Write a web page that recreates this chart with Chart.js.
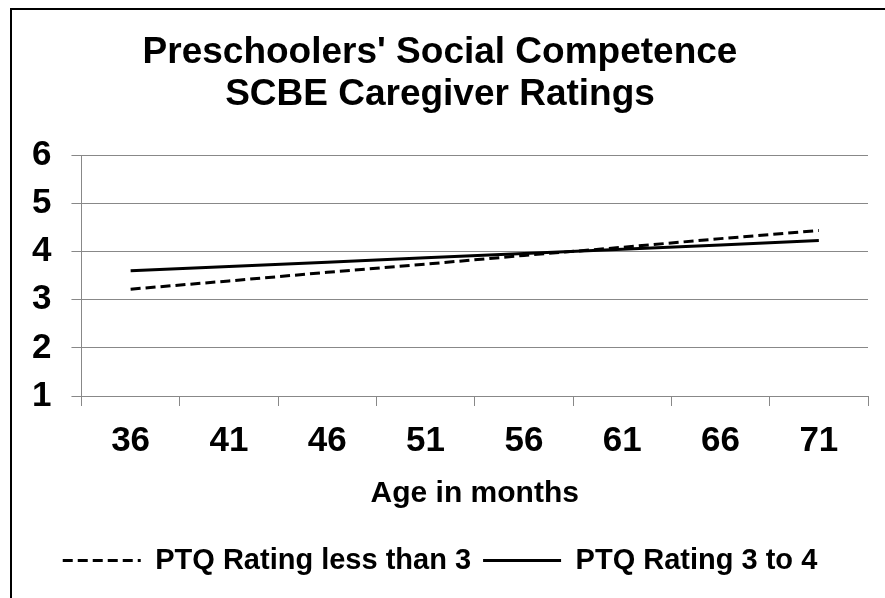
<!DOCTYPE html>
<html>
<head>
<meta charset="utf-8">
<script src="https://cdn.jsdelivr.net/npm/chart.js@4/dist/chart.umd.min.js"></script>
<style>
  html, body { margin: 0; padding: 0; background: #fff; }
  #wrap { position: relative; width: 885px; height: 598px; overflow: hidden; }
  #frame { position: absolute; left: 10px; top: 8px; width: 900px; height: 620px;
           border-left: 2px solid #000; border-top: 2px solid #000; }
  #chart { position: absolute; left: 0; top: 0; }
</style>
</head>
<body>
<div id="wrap">
  <div id="frame"></div>
  <canvas id="chart" width="885" height="598"></canvas>
</div>
<script>
const ages = ['36', '41', '46', '51', '56', '61', '66', '71'];
const ptqBelow3 = [3.22, 3.39, 3.57, 3.74, 3.92, 4.09, 4.27, 4.44];
const ptq3to4 = [3.60, 3.69, 3.78, 3.87, 3.96, 4.05, 4.14, 4.23];
const yTicks = [1, 2, 3, 4, 5, 6];

const FONT = '"Liberation Sans", Arial, sans-serif';
const GRID = '#888888';

const ctx = document.getElementById('chart').getContext('2d');
new Chart(ctx, {
  type: 'line',
  data: {
    labels: ages,
    datasets: [{
      label: 'PTQ Rating less than 3',
      data: ptqBelow3,
      borderColor: '#000',
      borderWidth: 3,
      borderDash: [10, 5],
      pointRadius: 0,
      fill: false
    }, {
      label: 'PTQ Rating 3 to 4',
      data: ptq3to4,
      borderColor: '#000',
      borderWidth: 3,
      pointRadius: 0,
      fill: false
    }]
  },
  options: {
    responsive: false,
    animation: false,
    layout: { padding: { left: 12, right: 17, top: 32, bottom: 13 } },
    plugins: {
      tooltip: { enabled: false },
      title: {
        display: true,
        text: ["Preschoolers' Social Competence", 'SCBE Caregiver Ratings'],
        color: '#000',
        font: { family: FONT, size: 37, weight: 'bold', lineHeight: 1.14 },
        padding: { top: 0, bottom: 39 }
      },
      legend: {
        position: 'bottom',
        labels: {
          color: '#000',
          font: { family: FONT, size: 29, weight: 'bold' },
          usePointStyle: true,
          pointStyle: 'line',
          pointStyleWidth: 78,
          boxWidth: 78,
          padding: 12,
          generateLabels: (chart) => {
            const items = Chart.defaults.plugins.legend.labels.generateLabels(chart);
            items.forEach(item => {
              const ds = chart.data.datasets[item.datasetIndex];
              item.lineDash = ds.borderDash || [];
              item.lineWidth = ds.borderWidth;
            });
            return items;
          }
        }
      }
    },
    scales: {
      x: {
        offset: true,
        grid: { offset: true, drawOnChartArea: false, color: GRID, tickLength: 10 },
        border: { color: GRID },
        ticks: { color: '#000', font: { family: FONT, size: 35, weight: 'bold' }, padding: 14, maxRotation: 0 },
        title: {
          display: true,
          text: 'Age in months',
          color: '#000',
          font: { family: FONT, size: 30, weight: 'bold' },
          padding: { top: 0, bottom: 22 }
        }
      },
      y: {
        min: 1,
        max: 6,
        afterBuildTicks: (axis) => { axis.ticks = yTicks.map(v => ({ value: v })); },
        grid: { color: GRID, tickLength: 10 },
        border: { color: GRID },
        ticks: { color: '#000', font: { family: FONT, size: 35, weight: 'bold' }, padding: 20 }
      }
    }
  }
});
</script>
</body>
</html>
